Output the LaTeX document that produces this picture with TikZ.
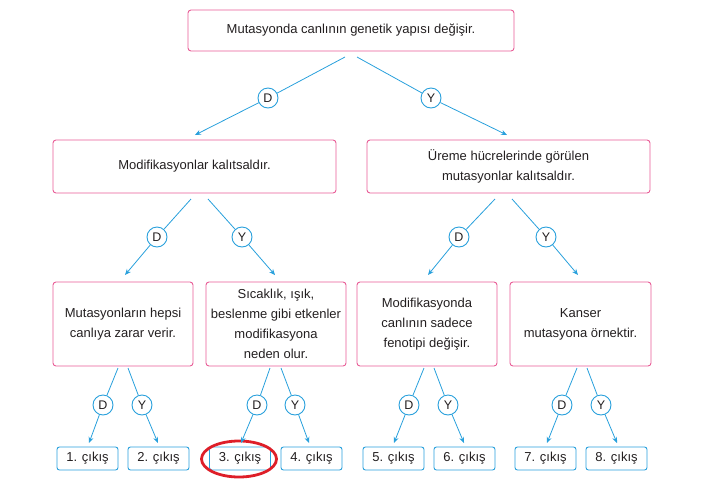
\documentclass[tikz,border=0pt]{standalone}
\usepackage{fontspec}
\setmainfont{Liberation Sans}
\usetikzlibrary{arrows.meta,shapes.geometric}
\definecolor{pinkb}{RGB}{232,92,150}
\definecolor{blueb}{RGB}{40,160,220}
\definecolor{redc}{RGB}{222,30,40}
\definecolor{textc}{RGB}{35,31,32}
\begin{document}
\begin{tikzpicture}[x=1pt,y=-1pt,
 box/.style={draw=pinkb, line width=0.9pt, rounded corners=3pt, align=center, text=textc, font=\fontsize{13}{20}\selectfont, inner sep=0pt},
 leaf/.style={draw=blueb, line width=0.9pt, rounded corners=2.5pt, text=textc, font=\fontsize{13}{15}\selectfont, inner sep=0pt, minimum width=61pt, minimum height=23pt},
 dy/.style={circle, draw=blueb, fill=white, line width=0.9pt, inner sep=0pt, minimum size=20pt, text=textc, font=\fontsize{12.5}{14}\selectfont},
 conn/.style={draw=blueb, line width=0.8pt},
 arr/.style={conn, -{Stealth[length=6pt,width=5pt]}}]
\useasboundingbox (0,0) rectangle (705,483);

% boxes
\node[box, minimum width=326pt, minimum height=41pt] (top) at (351,30.5) {Mutasyonda canlının genetik yapısı değişir.};
\node[box, minimum width=283pt, minimum height=53pt] (ma) at (194.5,166.5) {Modifikasyonlar kalıtsaldır.};
\node[box, minimum width=283pt, minimum height=53pt] (mb) at (508.5,166.5) {Üreme hücrelerinde görülen\\mutasyonlar kalıtsaldır.};
\node[box, minimum width=140pt, minimum height=84pt] (b1) at (123,324) {Mutasyonların hepsi\\canlıya zarar verir.};
\node[box, minimum width=140pt, minimum height=84pt] (b2) at (276,324) {Sıcaklık, ışık,\\beslenme gibi etkenler\\modifikasyona\\neden olur.};
\node[box, minimum width=140pt, minimum height=84pt] (b3) at (427,324) {Modifikasyonda\\canlının sadece\\fenotipi değişir.};
\node[box, minimum width=141pt, minimum height=84pt] (b4) at (580.5,324) {Kanser\\mutasyona örnektir.};

% leaves
\node[leaf] (l1) at (87.5,458.5) {1. çıkış};
\node[leaf] (l2) at (158.5,458.5) {2. çıkış};
\node[leaf] (l3) at (240,458.5) {3. çıkış};
\node[leaf] (l4) at (311.5,458.5) {4. çıkış};
\node[leaf] (l5) at (393.5,458.5) {5. çıkış};
\node[leaf] (l6) at (464.5,458.5) {6. çıkış};
\node[leaf] (l7) at (545.5,458.5) {7. çıkış};
\node[leaf] (l8) at (616.5,458.5) {8. çıkış};

% highlight
\node[draw=redc, line width=2.8pt, ellipse, minimum width=75pt, minimum height=36pt, inner sep=0pt] (hl) at (239,459) {};

% decision circles
\node[dy] (d1) at (268,98) {D};
\node[dy] (y1) at (431,98) {Y};
\node[dy] (d2) at (157,237) {D};
\node[dy] (y2) at (242,237) {Y};
\node[dy] (d3) at (459,237) {D};
\node[dy] (y3) at (546,237) {Y};
\node[dy] (d4) at (103,405) {D};
\node[dy] (y4) at (142,405) {Y};
\node[dy] (d5) at (257,405) {D};
\node[dy] (y5) at (295,405) {Y};
\node[dy] (d6) at (409,405) {D};
\node[dy] (y6) at (448,405) {Y};
\node[dy] (d7) at (562,405) {D};
\node[dy] (y7) at (601,405) {Y};

% start and end points
\coordinate (sd1) at (345,57);  \coordinate (ed1) at (195,135);
\coordinate (sy1) at (357,57);  \coordinate (ey1) at (507,135);
\coordinate (sd2) at (191,199); \coordinate (ed2) at (125,275);
\coordinate (sy2) at (208,199); \coordinate (ey2) at (275,275);
\coordinate (sd3) at (495,199); \coordinate (ed3) at (428,275);
\coordinate (sy3) at (512,199); \coordinate (ey3) at (578,275);
\coordinate (sd4) at (118,368); \coordinate (ed4) at (89,443);
\coordinate (sy4) at (128,368); \coordinate (ey4) at (158,443);
\coordinate (sd5) at (270,368); \coordinate (ed5) at (241,443);
\coordinate (sy5) at (281,368); \coordinate (ey5) at (309,443);
\coordinate (sd6) at (424,368); \coordinate (ed6) at (394,443);
\coordinate (sy6) at (434,368); \coordinate (ey6) at (464,443);
\coordinate (sd7) at (577,368); \coordinate (ed7) at (547,443);
\coordinate (sy7) at (587,368); \coordinate (ey7) at (617,443);

\foreach \i in {1,...,7}{
  \draw[conn] (sd\i) -- (d\i);
  \draw[arr] (d\i) -- (ed\i);
  \draw[conn] (sy\i) -- (y\i);
  \draw[arr] (y\i) -- (ey\i);
}
\end{tikzpicture}
\end{document}
